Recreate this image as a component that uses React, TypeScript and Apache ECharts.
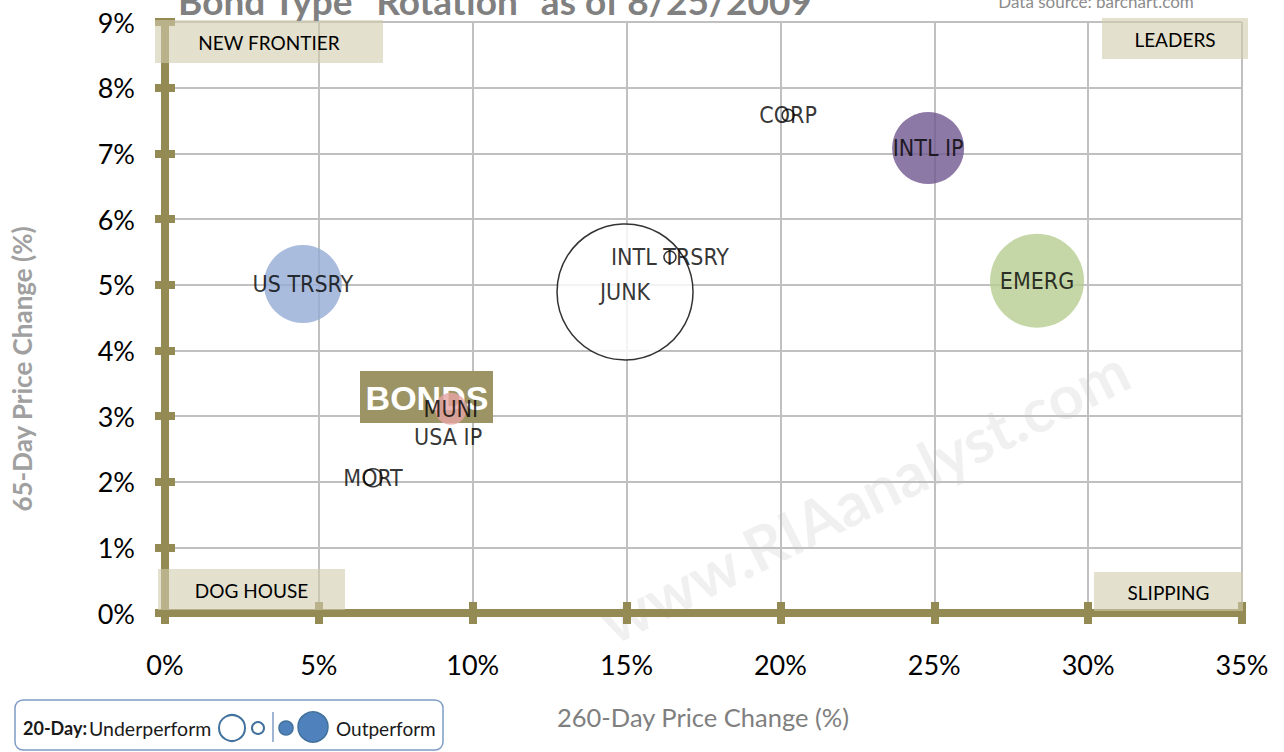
import React, { useEffect, useRef } from "react";
import * as echarts from "echarts";

// ---- data ----
const bondTypes = ["JUNK", "EMERG", "US TRSRY", "INTL IP", "MUNI", "MORT", "INTL TRSRY", "CORP", "USA IP"];
const change260 = [14.95, 28.34, 4.48, 24.8, 9.29, 6.76, 16.41, 20.25, 9.2]; // 260-day price change (%)
const change65 = [4.89, 5.06, 5.01, 7.08, 3.11, 2.06, 5.42, 7.58, 2.68]; // 65-day price change (%)
// 20-day relative performance, shown as bubble diameter (px); negative = underperform (hollow)
const perf20 = [-136, 94, 78, 72, 32, -18, -12, -12, 0];
const bubbleColors = ["#FFFFFF", "#B6CD91", "#95ABD4", "#705790", "#E6A4A4", "#FFFFFF", "#FFFFFF", "#FFFFFF", "#FFFFFF"];

const xTickLabels = ["0%", "5%", "10%", "15%", "20%", "25%", "30%", "35%"];
const yTickLabels = ["0%", "1%", "2%", "3%", "4%", "5%", "6%", "7%", "8%", "9%"];

const titleText = 'Bond Type "Rotation" as of 8/25/2009';
const sourceText = "Data source: barchart.com";
const xName = "260-Day Price Change (%)";
const yName = "65-Day Price Change (%)";
const quadrants = ["NEW FRONTIER", "LEADERS", "DOG HOUSE", "SLIPPING"];

const OLIVE = "#948A54";
const CAL = "Lato, 'Open Sans', sans-serif";
const NARROW = "'Liberation Sans Narrow', 'DejaVu Sans Condensed', 'Liberation Sans', sans-serif";

export default function App() {
  const ref = useRef<HTMLDivElement>(null);
  useEffect(() => {
    if (!ref.current) return;
    const chart = echarts.init(ref.current, null, { renderer: "svg" });

    const data = bondTypes.map((n, i) => {
      const p = perf20[i];
      const hollow = p < 0 || bubbleColors[i] === "#FFFFFF";
      return {
        name: n,
        value: [change260[i], change65[i]],
        symbolSize: Math.abs(p),
        itemStyle: hollow
          ? { color: "#FFFFFF", borderColor: "#000000", borderWidth: p === 0 ? 0 : 1.5 }
          : { color: bubbleColors[i], borderWidth: 0 },
        label: {
          show: true,
          position: "inside",
          formatter: n,
          color: "#000",
          fontFamily: NARROW,
          fontSize: 23,
        },
      };
    });

    const qBox = (x: number, y: number, w: number, h: number, text: string) => [
      {
        type: "rect",
        z: 5,
        shape: { x, y, width: w, height: h },
        style: { fill: "rgba(208,203,173,0.6)" },
      },
      {
        type: "text",
        z: 6,
        x: x + w / 2,
        y: y + h / 2 + 1,
        style: {
          text,
          fill: "#000",
          font: `19px ${CAL}`,
          align: "center",
          verticalAlign: "middle",
        },
      },
    ];

    chart.setOption({
      animation: false,
      backgroundColor: "#FFFFFF",
      grid: { left: 165, right: 42, top: 22, bottom: 139, containLabel: false },
      xAxis: [
        {
          type: "value",
          min: 0,
          max: 35,
          interval: 5,
          axisLine: { show: true, onZero: false, lineStyle: { color: OLIVE, width: 8 } },
          axisTick: { show: true, length: 11, lineStyle: { color: OLIVE, width: 8 } },
          axisLabel: {
            formatter: (v: number) => xTickLabels[Math.round(v / 5)],
            color: "#000",
            fontSize: 27,
            fontFamily: CAL,
            margin: 38,
          },
          splitLine: { show: true, lineStyle: { color: "#C0C0C0", width: 2 } },
        },
        {
          type: "value",
          min: 0,
          max: 35,
          interval: 5,
          position: "bottom",
          axisLine: { show: false },
          axisTick: { show: true, inside: true, length: 11, lineStyle: { color: OLIVE, width: 8 } },
          axisLabel: { show: false },
          splitLine: { show: false },
        },
      ],
      yAxis: [
        {
          type: "value",
          min: 0,
          max: 9,
          interval: 1,
          axisLine: { show: true, onZero: false, lineStyle: { color: OLIVE, width: 8 } },
          axisTick: { show: true, length: 10, lineStyle: { color: OLIVE, width: 8 } },
          axisLabel: {
            formatter: (v: number) => yTickLabels[Math.round(v)],
            color: "#000",
            fontSize: 27,
            fontFamily: CAL,
            margin: 30,
          },
          splitLine: { show: true, lineStyle: { color: "#C0C0C0", width: 2 } },
        },
        {
          type: "value",
          min: 0,
          max: 9,
          interval: 1,
          position: "left",
          axisLine: { show: false },
          axisTick: { show: true, inside: true, length: 10, lineStyle: { color: OLIVE, width: 8 } },
          axisLabel: { show: false },
          splitLine: { show: false },
        },
      ],
      series: [
        {
          type: "scatter",
          xAxisIndex: 0,
          yAxisIndex: 0,
          z: 3,
          data,
          emphasis: { disabled: true },
          labelLayout: { hideOverlap: false },
        },
      ],
      graphic: [
        // watermark
        {
          type: "text",
          z: -1,
          x: 864,
          y: 495,
          rotation: (26.5 * Math.PI) / 180,
          style: {
            text: "www.RIAanalyst.com",
            fill: "rgba(0,0,0,0.06)",
            font: `bold 61px ${CAL}`,
            align: "center",
            verticalAlign: "middle",
          },
        },
        // title
        {
          type: "text",
          z: 10,
          x: 495,
          y: 0,
          style: {
            text: titleText,
            fill: "#808080",
            font: `bold 37px ${CAL}`,
            align: "center",
            verticalAlign: "middle",
          },
        },
        {
          type: "text",
          z: 10,
          x: 1096,
          y: 1,
          style: {
            text: sourceText,
            fill: "#8C8C8C",
            font: `17px ${CAL}`,
            align: "center",
            verticalAlign: "middle",
          },
        },
        ...qBox(155, 20, 228, 43, quadrants[0]),
        ...qBox(1102, 18, 146, 41, quadrants[1]),
        ...qBox(158, 569, 187, 41, quadrants[2]),
        ...qBox(1094, 572, 149, 39, quadrants[3]),
        // BONDS box
        {
          type: "rect",
          z: 1,
          shape: { x: 360, y: 371, width: 133, height: 52 },
          style: { fill: "#9D9465" },
        },
        {
          type: "text",
          z: 1,
          x: 427,
          y: 398,
          style: {
            text: "BONDS",
            fill: "#FFFFFF",
            font: `bold 34px 'Liberation Sans', Arial, sans-serif`,
            align: "center",
            verticalAlign: "middle",
          },
        },
        // axis names
        {
          type: "text",
          z: 10,
          x: 703,
          y: 717,
          style: {
            text: xName,
            fill: "#7F7F7F",
            font: `25.5px ${CAL}`,
            align: "center",
            verticalAlign: "middle",
          },
        },
        {
          type: "text",
          z: 10,
          x: 22,
          y: 369,
          rotation: Math.PI / 2,
          style: {
            text: yName,
            fill: "#A0A0A0",
            font: `bold 26px ${CAL}`,
            align: "center",
            verticalAlign: "middle",
          },
        },
        // legend
        {
          type: "rect",
          z: 10,
          shape: { x: 15, y: 700, width: 428, height: 50, r: 8 },
          style: { fill: "#FFFFFF", stroke: "#7F9CC5", lineWidth: 1.5 },
        },
        {
          type: "text",
          z: 11,
          x: 23,
          y: 728,
          style: { text: "20-Day:", fill: "#1A1A1A", font: `bold 18px ${CAL}`, align: "left", verticalAlign: "middle" },
        },
        {
          type: "text",
          z: 11,
          x: 89,
          y: 728,
          style: { text: "Underperform", fill: "#1A1A1A", font: `19.5px ${CAL}`, align: "left", verticalAlign: "middle" },
        },
        {
          type: "circle",
          z: 11,
          shape: { cx: 232, cy: 728, r: 13 },
          style: { fill: "#FFFFFF", stroke: "#41719C", lineWidth: 2 },
        },
        {
          type: "circle",
          z: 11,
          shape: { cx: 258, cy: 728, r: 6 },
          style: { fill: "#FFFFFF", stroke: "#41719C", lineWidth: 2 },
        },
        {
          type: "line",
          z: 11,
          shape: { x1: 273, y1: 712, x2: 273, y2: 742 },
          style: { stroke: "#7F9CC5", lineWidth: 1.5 },
        },
        {
          type: "circle",
          z: 11,
          shape: { cx: 286, cy: 728, r: 7 },
          style: { fill: "#4F81BD", stroke: "#41719C", lineWidth: 1.5 },
        },
        {
          type: "circle",
          z: 11,
          shape: { cx: 313, cy: 727, r: 15 },
          style: { fill: "#4F81BD", stroke: "#41719C", lineWidth: 1.5 },
        },
        {
          type: "text",
          z: 11,
          x: 336,
          y: 728,
          style: { text: "Outperform", fill: "#1A1A1A", font: `19px ${CAL}`, align: "left", verticalAlign: "middle" },
        },
      ],
    });
    return () => chart.dispose();
  }, []);
  return (
    <div
      ref={ref}
      style={{ position: "fixed", left: 0, top: 0, width: 1284, height: 752, background: "#fff" }}
    />
  );
}
